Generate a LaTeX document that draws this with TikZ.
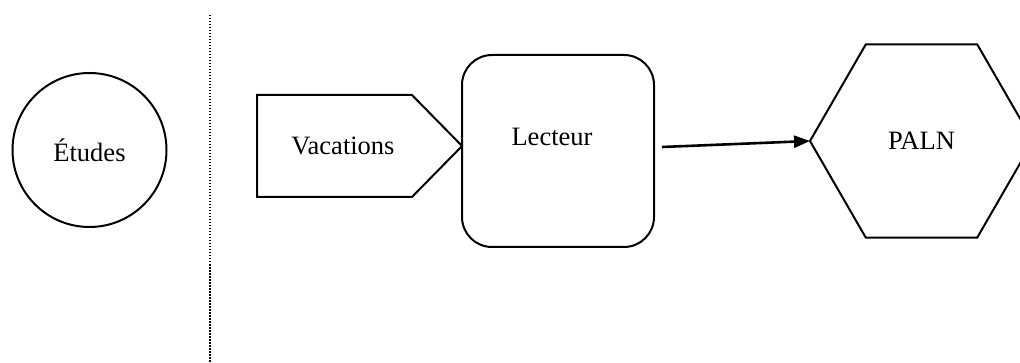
\documentclass[tikz,border=0pt]{standalone}
\usepackage{fontspec}
\setmainfont{Liberation Serif}
\usepackage{tikz}
\usetikzlibrary{arrows.meta}
\usetikzlibrary{shapes.geometric}
\usetikzlibrary{shapes.symbols}

\begin{document}
\begin{tikzpicture}[x=1pt,y=-1pt,
  forme/.style={draw, line width=2pt, inner sep=0pt, outer sep=0pt,
    font=\fontsize{26.5}{31}\selectfont}]
\clip (0,0) rectangle (1020,363);

\node [forme, circle, minimum size=154pt] (etudes) at (89.5,150) {\'Etudes};
\draw [line width=1.5pt, dash pattern=on 1.5pt off 1.5pt] (210,15)--(210,363);

\node [forme, signal, signal to=east, signal pointer angle=91,
  minimum width=205pt, minimum height=102pt,
  label={[font=\fontsize{26.5}{31}\selectfont, xshift=8.5pt]center:Vacations}] (vacations) at (334.5,146) {};
\node [forme, rectangle, rounded corners=30pt, minimum width=192pt, minimum height=192pt,
  label={[font=\fontsize{26.5}{31}\selectfont, yshift=14pt, xshift=-6pt]center:Lecteur}] (lecteur) at (558,151) {};
\node [forme, regular polygon, regular polygon sides=6, minimum size=223pt] (paln) at (921.5,141) {PALN};

\draw [-{Triangle[length=16pt,width=12pt]}, line width=2.6pt] ([xshift=8pt,yshift=4pt]lecteur.east)--(paln.west);

\end{tikzpicture}
\end{document}
